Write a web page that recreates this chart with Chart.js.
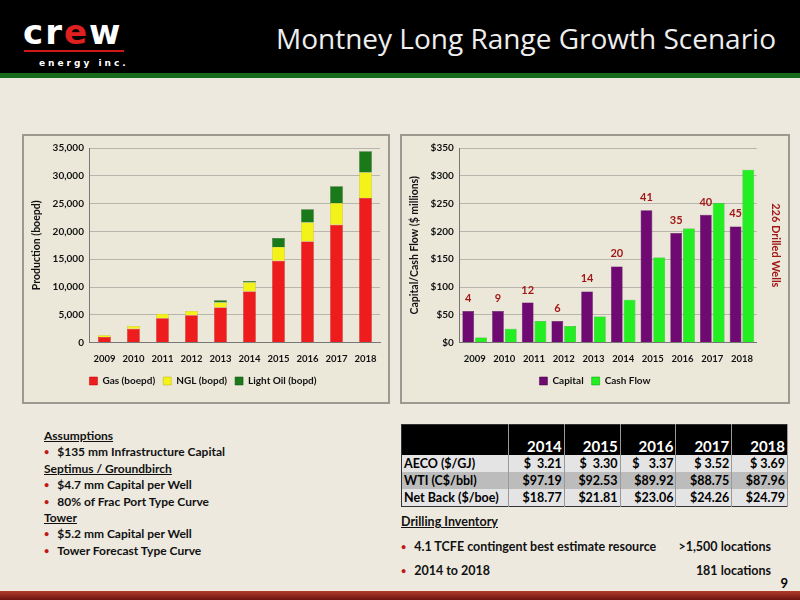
<!DOCTYPE html>
<html><head><meta charset="utf-8">
<script src="https://cdn.jsdelivr.net/npm/chart.js@4"></script>
<style>
body{margin:0;width:800px;height:600px;background:#ede9df;font-family:Lato,"Open Sans",sans-serif;position:relative;overflow:hidden}
#hdr{position:absolute;left:0;top:0;width:800px;height:73px;background:#000}
#gl{position:absolute;left:0;top:73px;width:800px;height:5px;background:#17691b}
#title{position:absolute;right:24px;top:19px;color:#eee;font-size:28px;font-family:"Open Sans",sans-serif}
#logo{position:absolute;left:23px;top:16px;color:#fff;font:bold 34px "DejaVu Sans",sans-serif;letter-spacing:2px;line-height:32px}
#logo .e{color:#e02020}
#logo .ul{position:absolute;left:1px;top:34px;width:100px;height:2px;background:#d01818}
#logo .sub{font:bold 9px "DejaVu Sans",sans-serif;letter-spacing:3px;position:absolute;left:16px;top:40px;white-space:nowrap;line-height:14px}
.panel{position:absolute;top:134px;height:270px;background:#ebe8da;border:2px solid #9c9a90;box-sizing:border-box}
#p1{left:22px;width:368px}#p2{left:400px;width:390px}
.panel canvas{position:absolute;left:0;top:0}
#assump{position:absolute;left:44px;top:428px;font-weight:bold;font-size:12px;line-height:16.4px;color:#111}
#assump u{display:block}
.b:before{content:"•";color:#c01818;margin-right:8px;font-size:9px;vertical-align:1px}
table{position:absolute;left:401px;top:424px;width:387px;table-layout:fixed;border-collapse:collapse;font-weight:bold;font-size:12.5px;border:1.5px solid #333}
td{height:17px;padding:0 2px;text-align:right;border-right:1px solid #999;white-space:nowrap;overflow:hidden}
tr.h td{background:#000;color:#fff;height:30px;font-size:15px;vertical-align:bottom}
tr.l td{background:#e4e4e4}tr.d td{background:#bcbcbc}
td.lab{text-align:left;width:102px}
#drill{position:absolute;left:401px;top:514px;font-weight:bold;font-size:12.5px;color:#111}
#drill .row{position:relative;height:24px;width:370px}
#drill .r{position:absolute;right:0;top:0}
#pg{position:absolute;right:12px;top:575px;font-weight:bold;font-size:13px}
#rb{position:absolute;left:0;top:591px;width:800px;height:9px;background:linear-gradient(#b23b2b,#6d1410)}
</style></head><body>
<div id="hdr"></div><div id="gl"></div>
<div id="logo">cr<span class="e">e</span>w<div class="ul"></div><div class="sub">energy inc.</div></div>
<div id="title">Montney Long Range Growth Scenario</div>
<div class="panel" id="p1"><canvas id="c1" width="364" height="266"></canvas></div>
<div class="panel" id="p2"><canvas id="c2" width="386" height="266"></canvas></div>
<div id="assump">
<u>Assumptions</u>
<div class="b">$135 mm Infrastructure Capital</div>
<u>Septimus / Groundbirch</u>
<div class="b">$4.7 mm Capital per Well</div>
<div class="b">80% of Frac Port Type Curve</div>
<u>Tower</u>
<div class="b">$5.2 mm Capital per Well</div>
<div class="b">Tower Forecast Type Curve</div>
</div>
<table>
<tr class="h"><td class="lab"></td><td>2014</td><td>2015</td><td>2016</td><td>2017</td><td>2018</td></tr>
<tr class="l"><td class="lab">AECO ($/GJ)</td><td>$&nbsp; 3.21</td><td>$&nbsp; 3.30</td><td>$&nbsp;&nbsp; 3.37</td><td>$ 3.52</td><td>$ 3.69</td></tr>
<tr class="d"><td class="lab">WTI (C$/bbl)</td><td>$97.19</td><td>$92.53</td><td>$89.92</td><td>$88.75</td><td>$87.96</td></tr>
<tr class="l"><td class="lab">Net Back ($/boe)</td><td>$18.77</td><td>$21.81</td><td>$23.06</td><td>$24.26</td><td>$24.79</td></tr>
</table>
<div id="drill">
<u style="display:block;margin-bottom:10px">Drilling Inventory</u>
<div class="row"><span class="b">4.1 TCFE contingent best estimate resource</span><span class="r">&gt;1,500 locations</span></div>
<div class="row"><span class="b">2014 to 2018</span><span class="r">181 locations</span></div>
</div>
<div id="pg">9</div>
<div id="rb"></div>
<script>
const years = ["2009","2010","2011","2012","2013","2014","2015","2016","2017","2018"];
const gasBoepd = [1000,2500,4400,4900,6300,9200,14700,18200,21200,26000];
const nglBopd = [300,500,800,800,900,1600,2500,3400,3900,4600];
const lightOilBopd = [0,0,0,0,400,300,1600,2400,3000,3800];
const capital = [57,57,72,39,92,137,238,197,230,209];
const cashFlow = [9,25,39,30,47,77,153,205,251,311];
const wellsDrilled = [4,9,12,6,14,20,41,35,40,45];

Chart.defaults.font.family = "Lato, 'Open Sans', sans-serif";
Chart.defaults.font.weight = "bold";
Chart.defaults.font.size = 10;
Chart.defaults.color = "#111";

const gridY = { color: "#b8b6ac", drawTicks: false };
const xAxis = { grid: { display: false }, border: { color: "#777" }, ticks: { maxRotation: 0, autoSkip: false, font: { size: 9.5, weight: "bold" } } };
const legend = { position: "bottom", labels: { boxWidth: 8, boxHeight: 8, padding: 8, font: { size: 10, weight: "bold" } } };

new Chart(document.getElementById("c1"), {
  type: "bar",
  data: {
    labels: years,
    datasets: [
      { label: "Gas (boepd)", data: gasBoepd, backgroundColor: "#ee1c1c", borderColor: "#b00", borderWidth: 0.5 },
      { label: "NGL (bopd)", data: nglBopd, backgroundColor: "#f3f31a", borderColor: "#bbb000", borderWidth: 0.5 },
      { label: "Light Oil (bopd)", data: lightOilBopd, backgroundColor: "#1a7a1a", borderColor: "#0d4d0d", borderWidth: 0.5 },
    ],
  },
  options: {
    responsive: false, animation: false,
    layout: { padding: { top: 10, right: 8, left: 2, bottom: 6 } },
    plugins: { legend, tooltip: { enabled: false } },
    datasets: { bar: { categoryPercentage: 0.8, barPercentage: 0.55 } },
    scales: {
      x: { ...xAxis, stacked: true },
      y: { stacked: true, min: 0, max: 35000, ticks: { stepSize: 5000, padding: 6 }, grid: gridY, border: { color: "#777" },
           title: { display: true, text: "Production (boepd)", font: { size: 10.5, weight: "bold" } } },
    },
  },
});

const wellLabels = {
  id: "wellLabels",
  afterDatasetsDraw(chart) {
    const ctx = chart.ctx;
    const meta = chart.getDatasetMeta(0);
    ctx.save();
    ctx.fillStyle = "#a01818";
    ctx.font = "bold 11px Lato, sans-serif";
    ctx.textAlign = "center";
    ctx.textBaseline = "bottom";
    meta.data.forEach((bar, i) => ctx.fillText(String(wellsDrilled[i]), bar.x, bar.y - 7));
    ctx.restore();
  },
};

new Chart(document.getElementById("c2"), {
  type: "bar",
  data: {
    labels: years,
    datasets: [
      { label: "Capital", data: capital, backgroundColor: "#6e0a72", borderColor: "#3d003f", borderWidth: 0.5 },
      { label: "Cash Flow", data: cashFlow, backgroundColor: "#22ee22", borderColor: "#0a9a0a", borderWidth: 0.5 },
    ],
  },
  options: {
    responsive: false, animation: false,
    layout: { padding: { top: 10, right: 2, left: 2, bottom: 6 } },
    plugins: { legend, tooltip: { enabled: false } },
    datasets: { bar: { categoryPercentage: 0.86, barPercentage: 0.92 } },
    scales: {
      x: xAxis,
      y: { min: 0, max: 350, ticks: { stepSize: 50, padding: 6, callback: (v) => "$" + v }, grid: gridY, border: { color: "#777" },
           title: { display: true, text: "Capital/Cash Flow ($ millions)", font: { size: 10.5, weight: "bold" } } },
      y2: { position: "right", min: 0, max: 350, ticks: { display: false }, grid: { drawOnChartArea: false, display: false }, border: { display: false },
            title: { display: true, text: "226 Drilled Wells", color: "#a01818", font: { size: 11, weight: "bold" } } },
    },
  },
  plugins: [wellLabels],
});
</script>
</body></html>
